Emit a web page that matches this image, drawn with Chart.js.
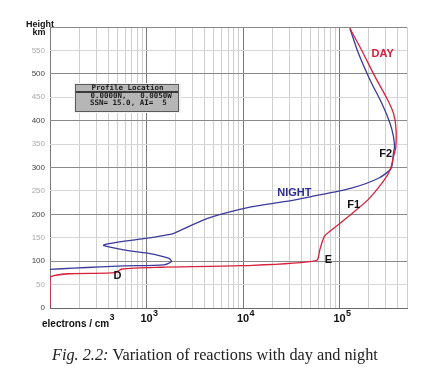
<!DOCTYPE html>
<html>
<head>
<meta charset="utf-8">
<script src="https://cdn.jsdelivr.net/npm/chart.js@4.4.1/dist/chart.umd.min.js"></script>
<style>
  body { margin: 0; background: #fff; }
  canvas { display: block; }
</style>
</head>
<body>
<canvas id="ionoChart" width="442" height="371"></canvas>
<script>
// electron density (electrons / cm3) against height (km)
var dayDensity   = [100, 100, 475, 558, 1400, 9530, 57500, 62400, 69300, 82600, 133000, 199000, 274000, 334000, 362000, 383000, 383000, 362000, 309000, 233000, 169000, 128000];
var dayHeight    = [0, 66, 75.4, 83.3, 87, 90.3, 101, 124, 152, 166.5, 200.7, 232, 266, 294.7, 323, 344, 387, 415.7, 447.8, 494, 551, 597];

var nightDensity = [128000, 157000, 207000, 274000, 334000, 362000, 371000, 362000, 342000, 253000, 133000, 51100, 26700, 12100, 4290, 1920, 1640, 1020, 359, 580, 1020, 1710, 1810, 1510, 580, 332, 175, 100];
var nightHeight  = [597, 544, 487, 437, 394, 366, 344, 331, 298, 277, 256, 238, 227, 216, 191.5, 159.5, 156, 149, 134.5, 124, 117, 106, 99, 92, 90, 88, 85, 82.6];

var heightTicks = [0, 50, 100, 150, 200, 250, 300, 350, 400, 450, 500, 550, 600];
var decadeLabels = [3, 4, 5];

// region / curve names placed at (density, height)
var curveLabels = [
    { text: "DAY",   n: 280000, h: 542,   color: "#d41e3a" },
    { text: "NIGHT", n: 34000,  h: 245.5, color: "#2b2b9e" },
    { text: "F2",    n: 301000, h: 329,   color: "#111" },
    { text: "F1",    n: 140000, h: 220,   color: "#111" },
    { text: "E",     n: 76700,  h: 102.5, color: "#111" },
    { text: "D",     n: 499,    h: 68.3,  color: "#111" }
];

function toPoints(xs, ys) {
    var pts = [];
    for (var i = 0; i < xs.length; i++)
        pts.push({ x: xs[i], y: ys[i] });
    return pts;
}

function isDecade(v) {
    var l = Math.log10(v);
    return Math.abs(l - Math.round(l)) < 1e-9;
}

var sans = '"Liberation Sans", Arial, sans-serif';

var decor = {
    id: "decor",
    afterDraw: function (chart) {
        var c = chart.ctx;
        var xs = chart.scales.x, ys = chart.scales.y;
        c.save();

        // curve labels
        c.textAlign = "center";
        c.textBaseline = "middle";
        c.font = "bold 11px " + sans;
        curveLabels.forEach(function (l) {
            c.fillStyle = l.color;
            c.fillText(l.text, xs.getPixelForValue(l.n), ys.getPixelForValue(l.h));
        });

        // decade labels 10^n
        c.fillStyle = "#111";
        c.textBaseline = "alphabetic";
        decadeLabels.forEach(function (e) {
            var px = xs.getPixelForValue(Math.pow(10, e));
            c.textAlign = "center";
            c.font = "bold 11px " + sans;
            c.fillText("10", px, 322);
            c.textAlign = "left";
            c.font = "bold 9px " + sans;
            c.fillText(String(e), px + 6.5, 315.5);
        });

        // axis titles
        c.textAlign = "left";
        c.font = "bold 10px " + sans;
        c.fillText("electrons / cm", 42, 326.5);
        c.font = "bold 9px " + sans;
        c.fillText("3", 109.5, 319.5);

        c.textAlign = "center";
        c.font = "bold 9px " + sans;
        c.fillText("Height", 40, 27);
        c.fillText("km", 39, 35);

        // profile location box
        c.fillStyle = "#f2f2f2";
        c.fillRect(74, 83, 107, 30);
        c.fillStyle = "#b6b6b6";
        c.fillRect(76, 84.5, 103, 27);
        c.strokeStyle = "#5a5a5a";
        c.lineWidth = 1;
        c.strokeRect(75.5, 84.5, 103, 27);
        c.strokeStyle = "#111";
        c.lineWidth = 1.5;
        c.beginPath();
        c.moveTo(76, 92);
        c.lineTo(178, 92);
        c.stroke();
        c.fillStyle = "#1a1a1a";
        c.font = "bold 7.5px \"DejaVu Sans Mono\", monospace";
        c.textAlign = "center";
        c.textBaseline = "middle";
        c.fillText("Profile Location", 127.5, 88);
        c.textAlign = "left";
        c.fillText("0.0000N,   0.0050W", 90.5, 96.5);
        c.fillText("SSN= 15.0, AI=  5", 90, 103.5);

        // caption
        c.textBaseline = "alphabetic";
        c.fillStyle = "#222";
        var fs = 13;
        var f1 = "italic " + fs + 'px "Liberation Serif", serif';
        var f2 = fs + 'px "Liberation Serif", serif';
        c.font = f1;
        var w1 = c.measureText("Fig. 2.2: ").width;
        c.font = f2;
        var w2 = c.measureText("Variation of reactions with day and night").width;
        var k = 326 / (w1 + w2);
        fs = fs * k;
        c.font = "italic " + fs + 'px "Liberation Serif", serif';
        c.fillText("Fig. 2.2: ", 52, 360);
        c.font = fs + 'px "Liberation Serif", serif';
        c.fillText("Variation of reactions with day and night", 52 + w1 * k, 360);

        c.restore();
    }
};

var chart = new Chart("ionoChart", {
    type: "scatter",
    data: {
        datasets: [{
            label: "DAY",
            data: toPoints(dayDensity, dayHeight),
            showLine: true,
            borderColor: "#d8213c",
            borderWidth: 1.3,
            pointRadius: 0,
            tension: 0.25
        }, {
            label: "NIGHT",
            data: toPoints(nightDensity, nightHeight),
            showLine: true,
            borderColor: "#3b3b9c",
            borderWidth: 1.3,
            pointRadius: 0,
            tension: 0.25
        }]
    },
    options: {
        responsive: false,
        animation: false,
        layout: { padding: { top: 27, right: 35, left: 0, bottom: 0 } },
        plugins: {
            legend: { display: false },
            tooltip: { enabled: false }
        },
        scales: {
            x: {
                type: "logarithmic",
                min: 100,
                max: 500000,
                afterBuildTicks: function (s) {
                    var t = [];
                    for (var e = 2; e <= 5; e++)
                        for (var m = 1; m <= 9; m++) {
                            var v = m * Math.pow(10, e);
                            if (v <= 500000) t.push({ value: v });
                        }
                    s.ticks = t;
                },
                afterFit: function (s) { s.height = 63; },
                ticks: { display: false },
                grid: {
                    drawTicks: false,
                    color: function (ctx) {
                        return ctx.tick && isDecade(ctx.tick.value) ? "#7a7a7a" : "#cfcfcf";
                    },
                    lineWidth: 1
                },
                border: { color: "#6a6a6a" }
            },
            y: {
                min: 0,
                max: 600,
                afterBuildTicks: function (s) {
                    s.ticks = heightTicks.map(function (v) { return { value: v }; });
                },
                afterFit: function (s) { s.width = 50; },
                ticks: {
                    padding: 5,
                    font: { size: 8, family: sans },
                    color: function (ctx) {
                        return ctx.tick.value % 100 === 0 ? "#444" : "#aaa";
                    },
                    callback: function (v) { return v === 600 ? "" : v; }
                },
                grid: {
                    drawTicks: false,
                    color: function (ctx) {
                        return ctx.tick && ctx.tick.value % 100 === 0 ? "#8a8a8a" : "#d6d6d6";
                    }
                },
                border: { display: false }
            }
        }
    },
    plugins: [decor]
});
</script>
</body>
</html>
